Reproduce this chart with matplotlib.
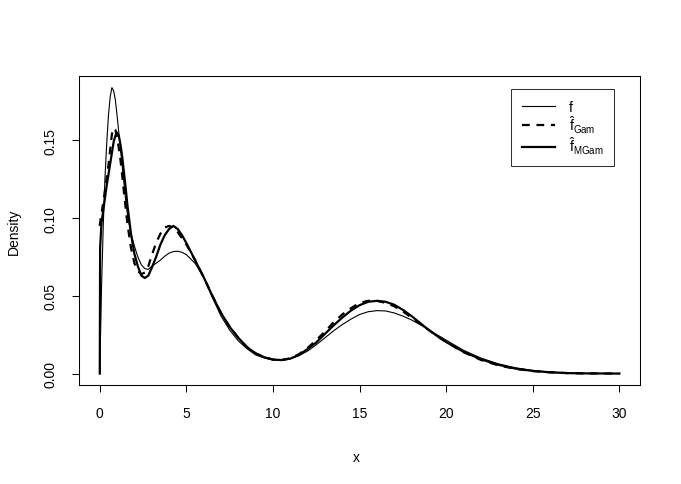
import matplotlib
matplotlib.use("Agg")
import matplotlib.pyplot as plt
from matplotlib.lines import Line2D

plt.rcParams['font.family'] = ['Liberation Sans', 'DejaVu Sans']
plt.rcParams['mathtext.fontset'] = 'custom'
plt.rcParams['mathtext.rm'] = 'Liberation Sans'
plt.rcParams['mathtext.it'] = 'Liberation Sans'

# values
x = [0, 0.02, 0.1, 0.2, 0.3, 0.4, 0.5, 0.6, 0.7, 0.8, 0.9, 1.0, 1.1, 1.2, 1.3,
     1.4, 1.5, 1.6, 1.8, 2.0, 2.2, 2.4, 2.6, 2.8, 3.0, 3.25, 3.5, 3.75, 4.0,
     4.25, 4.5, 4.75, 5.0, 5.5, 6.0, 6.5, 7.0, 7.5, 8.0, 8.5, 9.0, 9.5, 10.0,
     10.5, 11.0, 11.5, 12.0, 12.5, 13.0, 13.5, 14.0, 14.5, 15.0, 15.5, 16.0,
     16.5, 17.0, 17.5, 18.0, 18.5, 19.0, 19.5, 20.0, 21.0, 22.0, 23.0, 24.0,
     25.0, 26.0, 27.0, 28.0, 30.0]

f_true = [0.0, 0.012, 0.055, 0.095, 0.126, 0.148, 0.166, 0.178, 0.184, 0.182,
          0.176, 0.166, 0.155, 0.144, 0.133, 0.122, 0.111, 0.102, 0.090, 0.082,
          0.075, 0.070, 0.0675, 0.067, 0.069, 0.071, 0.073, 0.0755, 0.0775,
          0.0785, 0.0787, 0.078, 0.0765, 0.071, 0.062, 0.049, 0.037, 0.028,
          0.021, 0.016, 0.012, 0.010, 0.0088, 0.0086, 0.0095, 0.0115, 0.0145,
          0.0185, 0.023, 0.0275, 0.0315, 0.035, 0.038, 0.0398, 0.0405, 0.0403,
          0.039, 0.037, 0.0345, 0.0315, 0.028, 0.0248, 0.0215, 0.015, 0.010,
          0.0063, 0.0037, 0.002, 0.001, 0.0004, 0.0001, 0.0]

f_gam = [0.095, 0.097, 0.103, 0.110, 0.118, 0.126, 0.134, 0.144, 0.154, 0.158,
         0.157, 0.152, 0.145, 0.137, 0.127, 0.116, 0.106, 0.096, 0.081, 0.071,
         0.066, 0.064, 0.065, 0.069, 0.076, 0.084, 0.090, 0.094, 0.095, 0.094,
         0.091, 0.087, 0.083, 0.073, 0.062, 0.050, 0.039, 0.030, 0.023, 0.017,
         0.013, 0.0105, 0.009, 0.0087, 0.0098, 0.0125, 0.0165, 0.0215, 0.027,
         0.033, 0.038, 0.042, 0.0455, 0.0468, 0.0468, 0.0455, 0.0433, 0.040,
         0.036, 0.032, 0.028, 0.024, 0.0203, 0.0138, 0.0088, 0.0053, 0.003,
         0.0016, 0.0008, 0.0003, 0.0001, 0.0]

f_mgam = [0.0, 0.081, 0.097, 0.105, 0.113, 0.121, 0.128, 0.135, 0.142, 0.149,
          0.153, 0.155, 0.153, 0.147, 0.139, 0.129, 0.119, 0.108, 0.090, 0.077,
          0.069, 0.063, 0.0615, 0.063, 0.068, 0.075, 0.083, 0.089, 0.093, 0.095,
          0.093, 0.089, 0.084, 0.073, 0.062, 0.050, 0.039, 0.030, 0.023, 0.017,
          0.013, 0.0105, 0.009, 0.0087, 0.0096, 0.012, 0.0158, 0.020, 0.0255,
          0.031, 0.036, 0.0405, 0.044, 0.0462, 0.0468, 0.0462, 0.0443, 0.041,
          0.037, 0.0325, 0.028, 0.024, 0.0203, 0.014, 0.0092, 0.0057, 0.0032,
          0.0017, 0.0008, 0.0003, 0.0001, 0.0]

labels = ["f", r"$\hat{f}_{Gam}$", r"$\hat{f}_{MGam}$"]

fig = plt.figure(figsize=(6.81, 4.85), dpi=100)
ax = fig.add_axes([0.116, 0.204, 0.824, 0.637])

ax.plot(x, f_true, color='black', lw=0.8)
ax.plot(x, f_gam, color='black', lw=1.6, dashes=(3.5, 3))
ax.plot(x, f_mgam, color='black', lw=1.6)

ax.set_xlim(-1.2, 31.2)
ax.set_ylim(-0.0074, 0.1914)
ax.set_xticks([0, 5, 10, 15, 20, 25, 30])
ax.set_yticks([0.0, 0.05, 0.10, 0.15])
ax.set_yticklabels(["0.00", "0.05", "0.10", "0.15"], rotation=90, va='center')
ax.tick_params(length=5.2, width=0.75, labelsize=10, pad=10)
for s in ax.spines.values():
    s.set_linewidth(0.75)
ax.set_xlabel("x", fontsize=10)
ax.set_ylabel("Density", fontsize=10)
ax.xaxis.set_label_coords(0.495, -0.21)
ax.yaxis.set_label_coords(-0.103, 0.5)

handles = [Line2D([], [], color='black', lw=0.8),
           Line2D([], [], color='black', lw=1.6, dashes=(3.5, 3)),
           Line2D([], [], color='black', lw=1.6)]
leg = ax.legend(handles, labels, loc='upper right', bbox_to_anchor=(0.953, 0.958),
                borderaxespad=0, fontsize=10, frameon=True, fancybox=False,
                edgecolor='black', handlelength=2.4, labelspacing=0.0,
                borderpad=0.75, handletextpad=1.0)
leg.get_frame().set_linewidth(0.75)

fig.savefig("out.png", dpi=100)
